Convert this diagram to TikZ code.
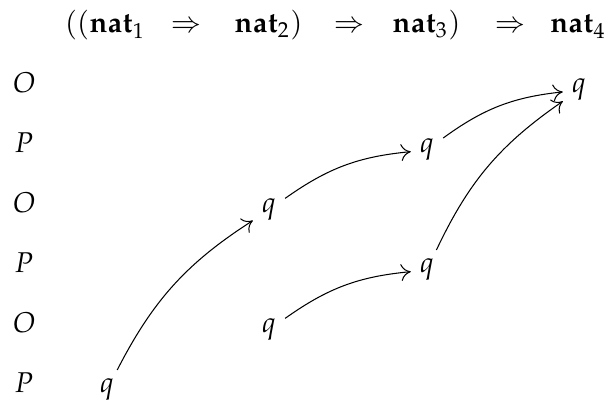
\documentclass[tikz,border=0pt]{standalone}
\usepackage[T1]{fontenc}
\usepackage{mathpazo}
\usetikzlibrary{arrows.meta}

\tikzset{
  riga/.style={anchor=base},
  mossa/.style={anchor=base},
  giustifica/.style={-{To[length=3.8pt,width=6.5pt]}, bend left=15},
}

\begin{document}
\begin{tikzpicture}[x=0.3846pt,y=-0.3846pt,font=\fontsize{11}{13}\selectfont]
        \useasboundingbox (0,0) rectangle (609,403);

        % tipo
        \node[riga] (h1) at (105,33) {$((\mathbf{nat}_1$};
        \node[riga] (h2) at (186,33) {$\Rightarrow$};
        \node[riga] (h3) at (268.5,33) {$\mathbf{nat}_2)$};
        \node[riga] (h4) at (349,33) {$\Rightarrow$};
        \node[riga] (h5) at (426.5,33) {$\mathbf{nat}_3)$};
        \node[riga] (h6) at (510,33) {$\Rightarrow$};
        \node[riga] (h7) at (578,33) {$\mathbf{nat}_4$};

        % giocatori
        \foreach \g [count=\i] in {O,P,O,P,O,P}
            \node[riga] (r\i) at (24,33+60*\i) {\textit{\g}};

        % mosse
        \node[mossa] (q1) at (107,393) {$q$};
        \node[mossa] (q2) at (269,213) {$q$};
        \node[mossa] (q3) at (427,153) {$q$};
        \node[mossa] (q4) at (579,93) {$q$};
        \node[mossa] (q5) at (269,333) {$q$};
        \node[mossa] (q6) at (427,273) {$q$};

        \draw[giustifica] (q1) to (q2);
        \draw[giustifica] (q2) to (q3);
        \draw[giustifica] (q3) to (q4);
        \draw[giustifica] (q5) to (q6);
        \draw[giustifica] (q6) to (q4);
    \end{tikzpicture}
\end{document}
